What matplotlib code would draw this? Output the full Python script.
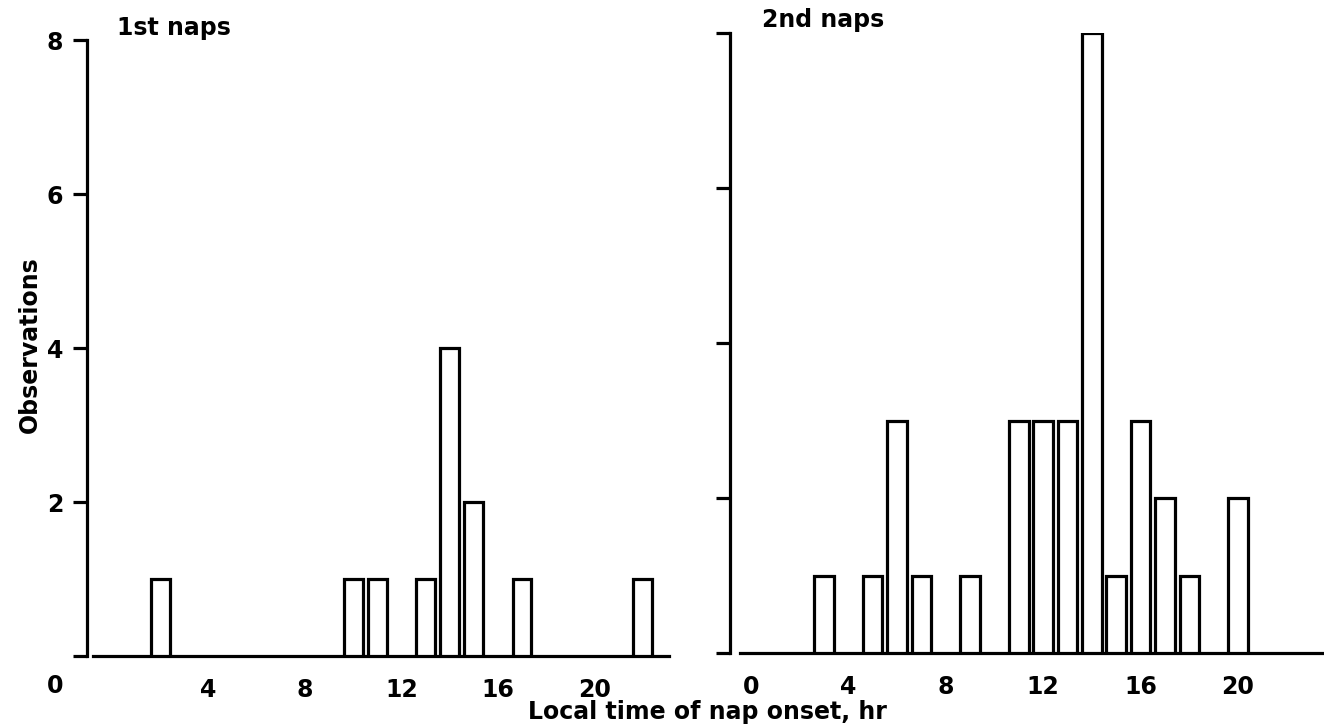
import numpy as np
import matplotlib.pyplot as plt

plt.rcParams['font.family'] = ['DejaVu Sans']
plt.rcParams['font.weight'] = 'bold'

# hour of nap onset and number of observations
first_hours = [2, 10, 11, 13, 14, 15, 17, 22]
first_counts = [1, 1, 1, 1, 4, 2, 1, 1]

second_hours = [3, 5, 6, 7, 9, 11, 12, 13, 14, 15, 16, 17, 18, 20]
second_counts = [1, 1, 3, 1, 1, 3, 3, 3, 8, 1, 3, 2, 1, 2]

y_ticks = [0, 2, 4, 6, 8]
left_xticks = [4, 8, 12, 16, 20]
right_xticks = [0, 4, 8, 12, 16, 20]

W, H = 1324, 725
fig = plt.figure(figsize=(W / 100, H / 100), dpi=100)

lw = 2.3
fs = 17


def style_axis(ax, xlim, xbounds, xticks, show_ylabels):
    ax.set_xlim(*xlim)
    ax.set_ylim(0, 8)
    for side in ['top', 'right']:
        ax.spines[side].set_visible(False)
    ax.spines['left'].set_linewidth(lw)
    ax.spines['bottom'].set_linewidth(lw)
    ax.spines['left'].set_bounds(0, 8)
    ax.spines['bottom'].set_bounds(*xbounds)
    ax.set_yticks(y_ticks)
    if show_ylabels:
        ax.set_yticklabels([''] + [str(t) for t in y_ticks[1:]])
    else:
        ax.set_yticklabels([])
    ax.set_xticks(xticks)
    ax.set_xticklabels([str(t) for t in xticks])
    ax.tick_params(axis='y', direction='out', length=10, width=lw, pad=7, labelsize=fs)
    ax.tick_params(axis='x', length=0, pad=16, labelsize=fs)


ax1 = fig.add_axes([87 / W, 69 / H, 582 / W, 616 / H])
ax1.bar(first_hours, first_counts, width=0.78, facecolor='white', edgecolor='black',
        linewidth=lw, zorder=3)
style_axis(ax1, (-1.04, 23.1), (-0.78, 23.1), left_xticks, True)

ax2 = fig.add_axes([730 / W, 72 / H, 592 / W, 620 / H])
ax2.bar(second_hours, second_counts, width=0.8, facecolor='white', edgecolor='black',
        linewidth=lw, zorder=3)
style_axis(ax2, (-0.86, 23.45), (-0.45, 23.45), right_xticks, False)

fig.text(55 / W, 1 - 686 / H, '0', ha='center', va='center', fontsize=fs)
fig.text(117 / W, 1 - 28 / H, '1st naps', ha='left', va='center', fontsize=fs)
fig.text(762 / W, 1 - 20 / H, '2nd naps', ha='left', va='center', fontsize=fs)
fig.text(30 / W, 1 - 345 / H, 'Observations', rotation=90, ha='center', va='center', fontsize=fs)
fig.text(707 / W, 1 - 712 / H, 'Local time of nap onset, hr', ha='center', va='center', fontsize=fs)

fig.savefig('out.png', dpi=100, facecolor='white')
